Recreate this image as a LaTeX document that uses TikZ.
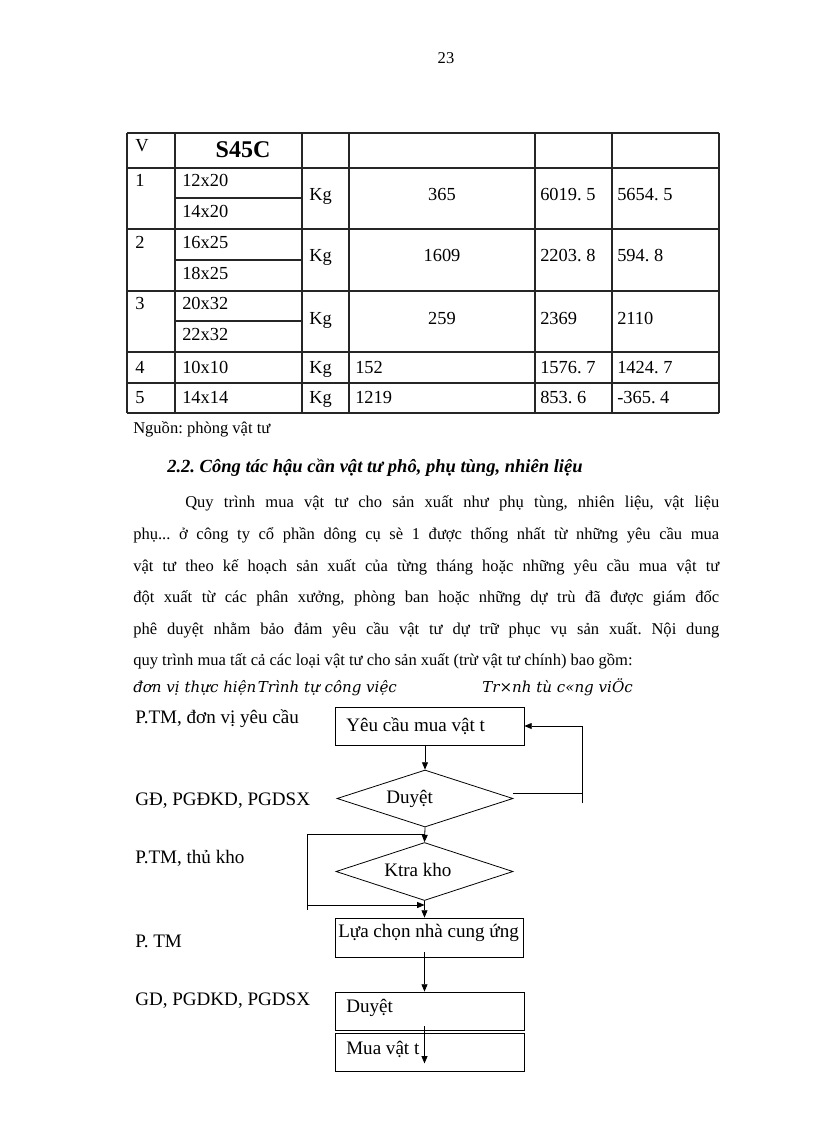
\documentclass[tikz,border=0pt]{standalone}
\usepackage{fontspec}
\setmainfont{Liberation Serif}
\newfontfamily\itf{DejaVu Serif}
\usetikzlibrary{shapes.geometric,arrows.meta}
\frenchspacing
\begin{document}
\frenchspacing
\begin{tikzpicture}[x=0.75pt,y=-0.75pt,
  txt/.style={inner sep=0pt, anchor=base west, font=\fontsize{12.4}{15}\selectfont},
  ttxt/.style={inner sep=0pt, anchor=base west, font=\fontsize{13.8}{16}\selectfont},
  tctr/.style={inner sep=0pt, anchor=base, font=\fontsize{13.8}{16}\selectfont},
  ftxt/.style={inner sep=0pt, anchor=base west, font=\fontsize{14.3}{16}\selectfont},
  itxt/.style={inner sep=0pt, anchor=base west, font=\itf\itshape\fontsize{11.3}{13}\selectfont},
  grid/.style={line width=1pt, draw=black!85},
  box/.style={draw, line width=0.6pt, rectangle, inner sep=0pt},
  dia/.style={draw, line width=0.6pt, diamond, inner sep=0pt},
  ln/.style={line width=0.6pt},
  arr/.style={line width=0.6pt, -{Triangle[length=5.5pt,width=4.5pt]}}]
\useasboundingbox (0,0) rectangle (816,1123);
\fill[white] (0,0) rectangle (816,1123);

% page number
\node[txt, anchor=base] (pg) at (446,64) {23};

% ---------- table ----------
\foreach \x in {127,175,302,349,535,612,719} \draw[grid] (\x,133) -- (\x,413);
\foreach \y in {133,168,229,291,352,383,413} \draw[grid] (127,\y) -- (719,\y);
\foreach \y in {198,260,321} \draw[grid] (175,\y) -- (302,\y);

\node[ttxt] (hV) at (135,152) {V};
\node[inner sep=0pt, anchor=base, font=\fontsize{18}{20}\bfseries] (hS) at (243,158) {S45C};

\node[ttxt] (r1a) at (135,187) {1};
\node[ttxt] (r1b) at (182,187) {12x20};
\node[ttxt] (r1c) at (182,218) {14x20};
\node[ttxt] (r1d) at (309,201) {Kg};
\node[tctr] (r1e) at (442,201) {365};
\node[ttxt] (r1f) at (540,201) {6019. 5};
\node[ttxt] (r1g) at (617,201) {5654. 5};

\node[ttxt] (r2a) at (135,248) {2};
\node[ttxt] (r2b) at (182,248) {16x25};
\node[ttxt] (r2c) at (182,279) {18x25};
\node[ttxt] (r2d) at (309,262) {Kg};
\node[tctr] (r2e) at (442,262) {1609};
\node[ttxt] (r2f) at (540,262) {2203. 8};
\node[ttxt] (r2g) at (617,262) {594. 8};

\node[ttxt] (r3a) at (135,309) {3};
\node[ttxt] (r3b) at (182,309) {20x32};
\node[ttxt] (r3c) at (182,340) {22x32};
\node[ttxt] (r3d) at (309,324) {Kg};
\node[tctr] (r3e) at (442,324) {259};
\node[ttxt] (r3f) at (540,324) {2369};
\node[ttxt] (r3g) at (617,324) {2110};

\node[ttxt] (r4a) at (135,373) {4};
\node[ttxt] (r4b) at (182,373) {10x10};
\node[ttxt] (r4d) at (309,373) {Kg};
\node[ttxt] (r4e) at (355,373) {152};
\node[ttxt] (r4f) at (540,373) {1576. 7};
\node[ttxt] (r4g) at (617,373) {1424. 7};

\node[ttxt] (r5a) at (135,403) {5};
\node[ttxt] (r5b) at (182,403) {14x14};
\node[ttxt] (r5d) at (309,403) {Kg};
\node[ttxt] (r5e) at (355,403) {1219};
\node[ttxt] (r5f) at (540,403) {853. 6};
\node[ttxt] (r5g) at (617,403) {-365. 4};

\node[txt] (src) at (133,433) {Nguồn: phòng vật tư};

% ---------- heading and paragraph ----------
\node[inner sep=0pt, anchor=base west, font=\fontsize{13.9}{16}\bfseries\itshape] (hd) at (167,472)
  {2.2. Công tác hậu cần vật tư phô, phụ tùng, nhiên liệu};

\node[txt] (p1) at (185,507) {\hbox to 400.5pt{Quy trình mua vật tư cho sản xuất như phụ tùng, nhiên liệu, vật liệu}};
\node[txt] (p2) at (133,539) {\hbox to 439.5pt{phụ... ở công ty cổ phần dông cụ sè 1 được thống nhất từ những yêu cầu mua}};
\node[txt] (p3) at (133,571) {\hbox to 439.5pt{vật tư theo kế hoạch sản xuất của từng tháng hoặc những yêu cầu mua vật tư}};
\node[txt] (p4) at (133,602) {\hbox to 439.5pt{đột xuất từ các phân xưởng, phòng ban hoặc những dự trù đã được giám đốc}};
\node[txt] (p5) at (133,634) {\hbox to 439.5pt{phê duyệt nhằm bảo đảm yêu cầu vật tư dự trữ phục vụ sản xuất. Nội dung}};
\node[txt] (p6) at (133,665) {quy trình mua tất cả các loại vật tư cho sản xuất (trừ vật tư chính) bao gồm:};

\node[itxt] (it1) at (133,692) {đơn vị thực hiện\kern1pt Trình tự công việc};
\node[itxt] (it2) at (482,692) {Tr×nh tù c«ng viÖc};

% ---------- flowchart ----------
\node[ftxt] (l1) at (135,723) {P.TM, đơn vị yêu cầu};
\node[ftxt] (l2) at (135,805) {GĐ, PGĐKD, PGDSX};
\node[ftxt] (l3) at (135,863) {P.TM, thủ kho};
\node[ftxt] (l4) at (135,947) {P. TM};
\node[ftxt] (l5) at (135,1005) {GD, PGDKD, PGDSX};

\node[box, minimum width=141.75pt, minimum height=28.5pt] (b1) at (429.5,726) {};
\node[ftxt] (t1) at (346,731) {Yêu cầu mua vật t};

\node[dia, minimum width=132pt, minimum height=42.75pt] (d1) at (425,798.5) {};
\node[ftxt] (t2) at (386,803) {Duyệt};

\node[dia, minimum width=132.75pt, minimum height=43.5pt] (d2) at (424.5,871.5) {};
\node[ftxt] (t3) at (384,876) {Ktra kho};

\node[box, minimum width=141pt, minimum height=29.25pt] (b3) at (429,937.5) {};
\node[ftxt] (t4) at (338,937) {Lựa chọn nhà cung ứng};

\node[box, minimum width=141.75pt, minimum height=28.5pt] (b4) at (429.5,1011) {};
\node[ftxt] (t5) at (346,1012) {Duyệt};

\node[box, minimum width=141.75pt, minimum height=28.5pt] (b5) at (429.5,1052) {};
\node[ftxt] (t6) at (346,1054) {Mua vật t};

\coordinate (fb) at (582,803);
\coordinate (lt) at (307,834);
\coordinate (lb) at (307,910);
\coordinate (lbh) at (307,905);

\draw[arr] (b1.south -| d1.north) -- (d1.north);
\draw[ln] ([yshift=4pt]d1.east) -- ([yshift=4pt]d1.east -| fb);
\draw[arr] (fb) |- (b1.east);
\draw[arr] (d1.south) -- (d2.north);
\draw[ln] (d1.south |- lt) -- (lt) -- (lb);
\draw[arr] (lbh) -- (lbh -| d2.south);
\draw[arr] (d2.south) -- (b3.north -| d2.south);
\draw[arr] ([yshift=3.75pt]b3.south -| d2.south) -- (b4.north -| d2.south);
\draw[arr] ([yshift=3pt]b4.south -| d2.south) -- ([yshift=6pt]b5.south -| d2.south);
\end{tikzpicture}
\end{document}
